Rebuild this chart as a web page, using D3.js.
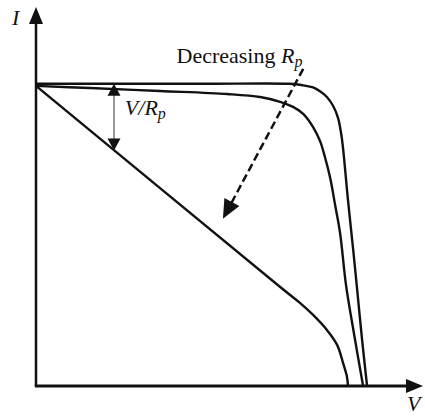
<!DOCTYPE html>
<html>
<head>
<meta charset="utf-8">
<script src="https://cdn.jsdelivr.net/npm/d3@7"></script>
<style>
  body { margin: 0; background: #fff; }
  text { font-family: "Liberation Serif", "Times New Roman", serif; fill: #111; }
</style>
</head>
<body>
<div id="chart"></div>
<script>
// I-V curves, Isc = 1, Voc ~ 1
// high Rp
var vHigh = [0, 0.498, 0.772, 0.812, 0.842, 0.863, 0.884, 0.903, 0.918, 0.927, 0.933, 0.948, 0.964, 0.976, 0.991, 1.006];
var iHigh = [1.007, 1.007, 1.007, 1.002, 0.995, 0.982, 0.963, 0.933, 0.893, 0.843, 0.793, 0.62, 0.453, 0.32, 0.153, 0];
// medium Rp
var vMid = [0, 0.164, 0.377, 0.581, 0.681, 0.742, 0.781, 0.812, 0.842, 0.863, 0.878, 0.894, 0.909, 0.924, 0.942, 0.967, 0.994];
var iMid = [1.0, 0.993, 0.983, 0.973, 0.963, 0.947, 0.930, 0.907, 0.863, 0.817, 0.763, 0.693, 0.603, 0.51, 0.337, 0.17, 0];
// low Rp
var vLow = [0, 0.742, 0.802, 0.842, 0.884, 0.915, 0.933, 0.945, 0.948];
var iLow = [1.0, 0.33, 0.277, 0.237, 0.187, 0.137, 0.077, 0.03, 0];

// annotations (data units)
var rpArrowV = 0.237, rpArrowI = [1.007, 0.785];
var decArrowFrom = [0.812, 1.057], decArrowTo = [0.568, 0.557];
var decLabelPos = [0.427, 1.077], rpLabelPos = [0.27, 0.903];

var width = 425, height = 417;
var xMax = 1.176, yMax = 1.263;

var x = d3.scaleLinear().domain([0, xMax]).range([36, 423]);
var y = d3.scaleLinear().domain([0, yMax]).range([386, 7]);

var svg = d3.select("#chart").append("svg")
    .attr("width", width)
    .attr("height", height);

// triangle arrow head, tip at (tx,ty), pointing away from (fx,fy)
function head(tx, ty, fx, fy, len, hw) {
    var a = Math.atan2(ty - fy, tx - fx);
    var bx = tx - len * Math.cos(a), by = ty - len * Math.sin(a);
    var px = -Math.sin(a) * hw, py = Math.cos(a) * hw;
    return "M" + tx + "," + ty + "L" + (bx + px) + "," + (by + py) + "L" + (bx - px) + "," + (by - py) + "Z";
}

// axes
svg.append("line")
    .attr("x1", x(0)).attr("y1", y(0))
    .attr("x2", x(0)).attr("y2", y(yMax) + 14)
    .attr("stroke", "#111").attr("stroke-width", 2.5);
svg.append("path")
    .attr("d", head(x(0), y(yMax), x(0), y(0), 17, 7))
    .attr("fill", "#111");
svg.append("line")
    .attr("x1", x(0) - 1.2).attr("y1", y(0))
    .attr("x2", x(xMax) - 14).attr("y2", y(0))
    .attr("stroke", "#111").attr("stroke-width", 2.8);
svg.append("path")
    .attr("d", head(x(xMax), y(0), x(0), y(0), 17, 7))
    .attr("fill", "#111");

svg.append("text")
    .attr("x", 12).attr("y", 25)
    .style("font-size", "22px").style("font-style", "italic")
    .text("I");
svg.append("text")
    .attr("x", 407).attr("y", 411)
    .style("font-size", "22px").style("font-style", "italic")
    .text("V");

// curves
var line = d3.line()
    .x(function(d) { return x(d[0]); })
    .y(function(d) { return y(d[1]); })
    .curve(d3.curveCatmullRom.alpha(0.5));

var curves = [d3.zip(vHigh, iHigh), d3.zip(vMid, iMid), d3.zip(vLow, iLow)];

svg.append("g")
    .selectAll("path")
    .data(curves)
    .enter().append("path")
        .attr("d", line)
        .attr("fill", "none")
        .attr("stroke", "#111")
        .attr("stroke-width", 2.4)
        .attr("stroke-linejoin", "round");

// V/Rp double arrow
var ax = x(rpArrowV), ay1 = y(rpArrowI[0]), ay2 = y(rpArrowI[1]);
svg.append("line")
    .attr("x1", ax).attr("y1", ay1 + 8)
    .attr("x2", ax).attr("y2", ay2 - 8)
    .attr("stroke", "#777").attr("stroke-width", 1.5);
svg.append("path").attr("d", head(ax, ay1, ax, ay2, 12, 6.5)).attr("fill", "#111");
svg.append("path").attr("d", head(ax, ay2, ax, ay1, 12, 6.5)).attr("fill", "#111");

var rpLab = svg.append("text")
    .attr("x", x(rpLabelPos[0])).attr("y", y(rpLabelPos[1]))
    .style("font-size", "22px").style("font-style", "italic");
rpLab.append("tspan").text("V/R");
rpLab.append("tspan").attr("dy", 4).style("font-size", "16px").text("p");

// dashed "decreasing Rp" arrow
var fx = x(decArrowFrom[0]), fy = y(decArrowFrom[1]);
var tx = x(decArrowTo[0]), ty = y(decArrowTo[1]);
var ang = Math.atan2(ty - fy, tx - fx);
svg.append("line")
    .attr("x1", fx).attr("y1", fy)
    .attr("x2", tx - 12 * Math.cos(ang)).attr("y2", ty - 12 * Math.sin(ang))
    .attr("stroke", "#111").attr("stroke-width", 2.5)
    .attr("stroke-dasharray", "8,4");
svg.append("path").attr("d", head(tx, ty, fx, fy, 19, 8.5)).attr("fill", "#111");

var decLab = svg.append("text")
    .attr("x", x(decLabelPos[0])).attr("y", y(decLabelPos[1]))
    .style("font-size", "22px");
decLab.append("tspan").text("Decreasing ");
decLab.append("tspan").style("font-style", "italic").text("R");
decLab.append("tspan").attr("dy", 4).style("font-size", "16px").style("font-style", "italic").text("p");
</script>
</body>
</html>
